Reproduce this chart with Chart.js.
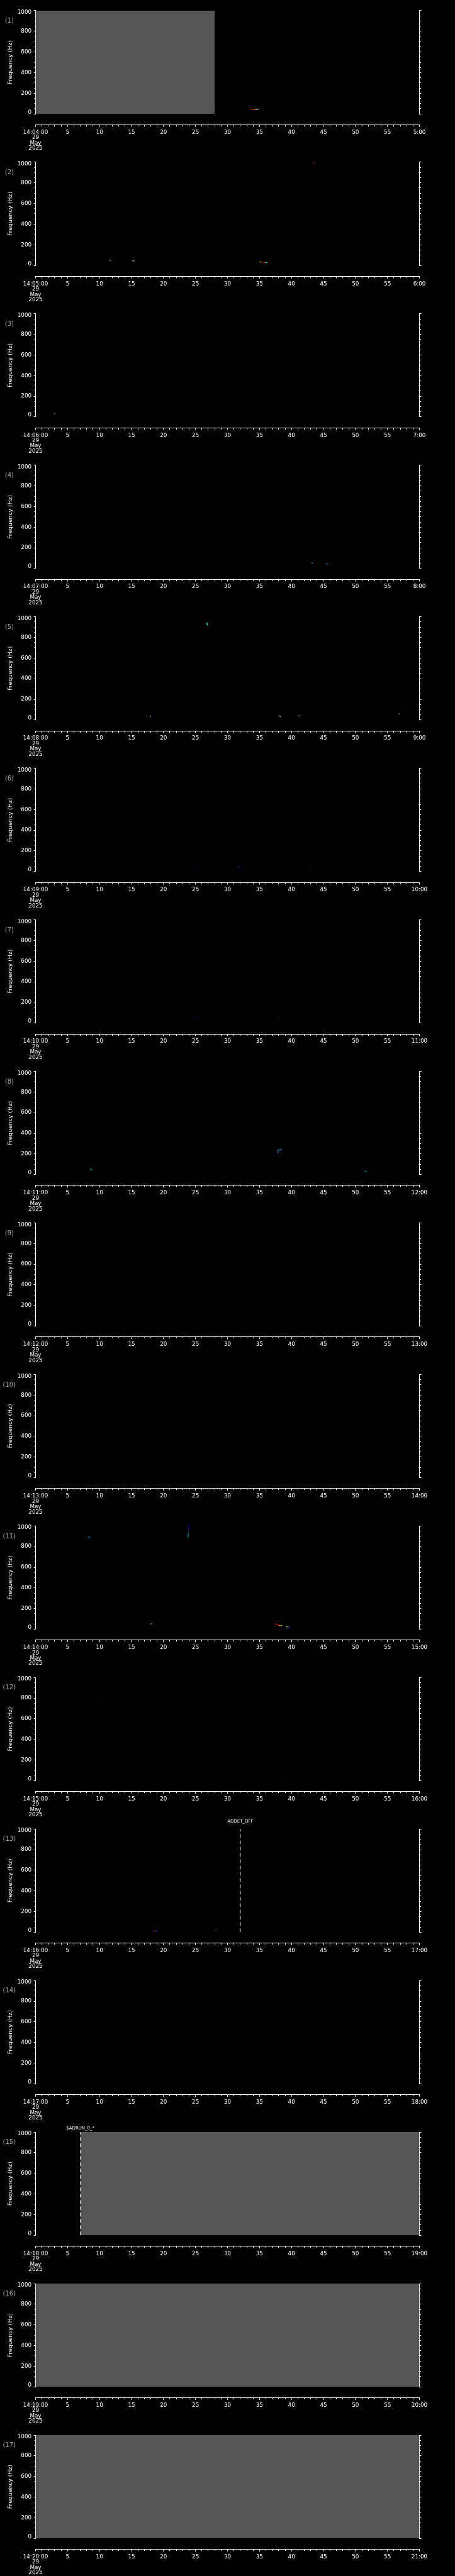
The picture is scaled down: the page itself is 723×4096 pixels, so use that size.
<!DOCTYPE html>
<html>
<head>
<meta charset="utf-8">
<style>
  html, body { margin: 0; padding: 0; background: #000; }
  #wrap { position: relative; width: 723px; height: 4096px; overflow: hidden; background: #000; }
  canvas { position: absolute; left: 0; }
</style>
</head>
<body>
<div id="wrap"></div>
<script src="https://cdn.jsdelivr.net/npm/chart.js@4.4.1/dist/chart.umd.min.js"></script>
<script>
// one panel per minute, 29 May 2025, 14:04 - 14:21
const startLabels = ['14:04:00', '14:05:00', '14:06:00', '14:07:00', '14:08:00', '14:09:00',
  '14:10:00', '14:11:00', '14:12:00', '14:13:00', '14:14:00', '14:15:00', '14:16:00',
  '14:17:00', '14:18:00', '14:19:00', '14:20:00'];
const endLabels = ['5:00', '6:00', '7:00', '8:00', '9:00', '10:00', '11:00', '12:00', '13:00',
  '14:00', '15:00', '16:00', '17:00', '18:00', '19:00', '20:00', '21:00'];
const dateLines = ['29', 'May', '2025'];
const freqTicks = [0, 200, 400, 600, 800, 1000];

// grey "no data" spans in seconds (null = none)
const noDataSpans = [[0, 28], null, null, null, null, null, null, null, null, null, null, null,
  null, null, [7, 60], [0, 60], [0, 60]];

// event markers
const eventPanels = [12, 14];
const eventTimes = [32, 7];
const eventTexts = ['ADDET_OFF', '$ADRUN_0_*'];

// spectral traces per panel: [seconds, Hz, level 0..1]
const traces = [
  [[[33.6, 44, 0.85], [33.9, 44, 0.85], [34.2, 40, 0.8], [34.4, 40, 0.63], [34.6, 40, 0.45], [34.9, 40, 0.15]]],
  [[[11.6, 52, 0.5], [11.8, 44, 0.2]],
   [[15.2, 47, 0.63], [15.4, 41, 0.37], [15.5, 38, 0.15]],
   [[35.1, 36, 0.63], [35.3, 32, 0.85], [35.7, 28, 0.85], [36.0, 27, 0.37], [36.2, 27, 0.3]],
   [[43.5, 994, 0.85], [43.6, 1000, 0.85]]],
  [[[2.9, 32, 0.4], [3.1, 30, 0.2]]],
  [[[43.2, 54, 0.37], [43.4, 50, 0.15]], [[45.5, 46, 0.37], [45.7, 44, 0.15]]],
  [[[26.8, 940, 0.45], [26.8, 925, 0.4], [26.9, 918, 0.2]],
   [[18.0, 37, 0.63], [18.1, 33, 0.15]],
   [[38.1, 42, 0.5], [38.3, 33, 0.6]],
   [[41.1, 45, 0.7], [41.2, 41, 0.2]],
   [[56.8, 61, 0.5], [56.9, 55, 0.15]]],
  [[[25.3, 47, 0.2]], [[31.7, 47, 0.15], [31.9, 45, 0.2]], [[41.9, 47, 0.15]], [[43.2, 45, 0.2]], [[51.5, 44, 0.15]]],
  [[[25.3, 51, 0.2]], [[38.1, 51, 0.2]]],
  [[[8.6, 52, 0.37], [8.8, 47, 0.3]],
   [[37.9, 210, 0.3], [37.9, 237, 0.37], [38.2, 240, 0.3], [38.4, 242, 0.37], [38.5, 236, 0.2]],
   [[51.5, 30, 0.37], [51.7, 28, 0.2]]],
  [[[56.8, 30, 0.2]]],
  [[[29.6, 51, 0.2]]],
  [[[8.3, 893, 0.37], [8.5, 884, 0.15]],
   [[23.8, 893, 0.37], [23.9, 930, 0.15], [24.0, 1000, 0.1]],
   [[18.0, 52, 0.4], [18.2, 52, 0.37]],
   [[37.4, 52, 0.85], [37.7, 45, 0.85], [37.9, 40, 0.85], [38.1, 35, 0.63], [38.5, 35, 0.6]],
   [[39.2, 26, 0.63], [39.4, 22, 0.3], [39.6, 20, 0.15]]],
  [[[10.4, 761, 0.2]], [[38.6, 45, 0.2]], [[39.6, 45, 0.15]]],
  [[[18.5, 12, 0.85], [18.8, 12, 0.15], [19.0, 12, 0.2]], [[28.2, 23, 0.75]]],
  [], [], [], []
];

const S = 723 / 1024;          // reference px -> page px
const PANEL = 4096 / 17;
const H = 244;

function jet(v) {
  const c = x => Math.round(255 * Math.max(0, Math.min(1, 1.5 - Math.abs(x))));
  return 'rgb(' + c(4 * v - 3) + ',' + c(4 * v - 2) + ',' + c(4 * v - 1) + ')';
}

const font = 'DejaVu Sans';
const wrap = document.getElementById('wrap');

startLabels.forEach((start, i) => {
  const top = Math.floor(i * PANEL);
  const frac = i * PANEL - top;
  const canvas = document.createElement('canvas');
  canvas.width = 723;
  canvas.height = H;
  canvas.style.top = top + 'px';
  wrap.appendChild(canvas);

  const datasets = [];
  const span = noDataSpans[i];
  if (span) {
    datasets.push({
      type: 'line',
      data: [{ x: span[0], y: 1000 }, { x: span[1], y: 1000 }],
      fill: 'origin',
      backgroundColor: '#555555',
      borderWidth: 0,
      borderColor: 'rgba(0,0,0,0)',
      pointRadius: 0,
      xAxisID: 'x', yAxisID: 'y', order: 3
    });
  }
  (traces[i] || []).forEach(tr => {
    datasets.push({
      type: 'line',
      data: tr.map(p => ({ x: p[0], y: p[1], v: p[2] })),
      showLine: true,
      borderWidth: 0.8,
      segment: { borderColor: ctx => jet(ctx.p0.raw.v) },
      pointStyle: 'rect',
      pointRadius: 0.75,
      pointBorderWidth: 0,
      pointBackgroundColor: ctx => jet(ctx.raw.v),
      xAxisID: 'x', yAxisID: 'y', order: 2
    });
  });
  eventPanels.forEach((p, k) => {
    if (p !== i) return;
    datasets.push({
      type: 'line',
      data: [{ x: eventTimes[k], y: 0 }, { x: eventTimes[k], y: 1000 }],
      borderColor: '#ffffff',
      borderWidth: 1,
      borderDash: [6, 4],
      pointRadius: 0,
      xAxisID: 'x', yAxisID: 'y', order: 1
    });
  });

  const textPlugin = {
    id: 'panelText',
    afterDraw(chart) {
      const c = chart.ctx;
      const area = chart.chartArea;
      c.save();
      c.textAlign = 'center';
      c.textBaseline = 'middle';
      c.fillStyle = '#a8a8a8';
      c.font = '10px "' + font + '"';
      c.fillText('(' + (i + 1) + ')', 21 * S, area.top + 23.5 * S);
      c.fillStyle = '#ffffff';
      c.font = '7px "' + font + '"';
      eventPanels.forEach((p, k) => {
        if (p !== i) return;
        const lift = p === 12 ? 17 : 8.6;
        c.fillText(eventTexts[k], chart.scales.x.getPixelForValue(eventTimes[k]), area.top - lift * S);
      });
      c.restore();
    }
  };

  new Chart(canvas, {
    type: 'scatter',
    data: { datasets },
    plugins: [textPlugin],
    options: {
      responsive: false,
      animation: false,
      devicePixelRatio: 1,
      layout: { padding: { top: 24 * S + frac, left: 0, right: 0, bottom: 0 } },
      plugins: { legend: { display: false }, tooltip: { enabled: false } },
      scales: {
        x: {
          type: 'linear', position: 'bottom', weight: 1,
          min: 0, max: 60,
          afterFit: s => { s.height = H - frac - 281 * S; },
          border: { display: true, color: '#fff', width: 1 },
          grid: {
            drawOnChartArea: false, drawTicks: true, color: '#fff', tickColor: '#fff',
            tickLength: 3.3,
            tickBorderDash: ctx => (ctx.tick && ctx.tick.value % 5 === 0) ? [] : [2.1, 20]
          },
          ticks: {
            stepSize: 1, autoSkip: false, maxRotation: 0, minRotation: 0,
            color: '#fff', padding: 4.4,
            font: { family: font, size: 8.8, lineHeight: '8.47px' },
            callback: v => {
              if (v === 0) return [start].concat(dateLines);
              if (v === 60) return endLabels[i];
              return v % 5 === 0 ? String(v) : '';
            }
          }
        },
        gap: {
          type: 'linear', axis: 'x', position: 'bottom', weight: 0,
          afterFit: s => { s.height = 24.5 * S; },
          grid: { display: false }, border: { display: false }, ticks: { display: false }
        },
        y: {
          type: 'linear', position: 'left',
          min: 0, max: 1000,
          afterFit: s => { s.width = 80 * S; },
          border: { display: true, color: '#fff', width: 1 },
          grid: {
            drawOnChartArea: false, drawTicks: true, color: '#fff', tickColor: '#fff',
            tickLength: 2.8,
            tickBorderDash: ctx => (ctx.tick && freqTicks.includes(ctx.tick.value)) ? [] : [0, 1.2, 1.6, 10]
          },
          title: {
            display: true, text: 'Frequency (Hz)', color: '#fff',
            font: { family: font, size: 9.3 }, padding: { top: 10.7, bottom: 0 }
          },
          ticks: {
            stepSize: 50, autoSkip: false, color: '#fff', padding: 3.6,
            font: { family: font, size: 8.8, lineHeight: '5.6px' },
            callback: v => {
              if (!freqTicks.includes(v)) return '';
              if (v === 1000) return ['', String(v)];
              if (v === 0) return [String(v), ''];
              return String(v);
            }
          }
        },
        y2: {
          type: 'linear', position: 'right',
          min: 0, max: 1000,
          afterFit: s => { s.width = 723 - 944 * S; },
          border: { display: true, color: '#fff', width: 1 },
          grid: {
            drawOnChartArea: false, drawTicks: true, color: '#fff', tickColor: '#fff',
            tickLength: 3.0,
            tickBorderDash: ctx => (ctx.tick && freqTicks.includes(ctx.tick.value)) ? [] : [1.9, 10]
          },
          ticks: { stepSize: 50, autoSkip: false, display: false }
        }
      }
    }
  });
});
</script>
</body>
</html>
